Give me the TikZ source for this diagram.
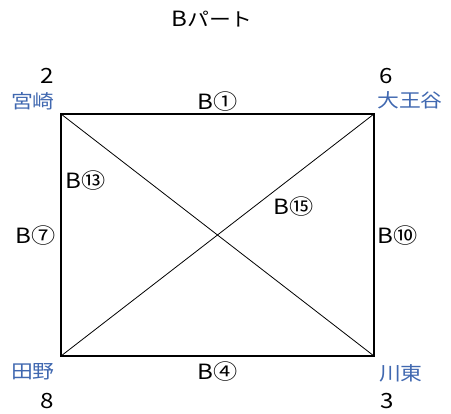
\documentclass[tikz,border=0pt]{standalone}
\usepackage{fontspec}
\setmainfont[FakeStretch=1.15]{Noto Sans CJK JP}
\definecolor{nameblue}{RGB}{64,104,176}
\begin{document}
\begin{tikzpicture}[x=1pt,y=-1pt,
  lbl/.style={inner sep=0pt,font=\fontsize{21}{21}\selectfont},
  place/.style={inner sep=0pt,font=\fontsize{19}{19}\selectfont,text=nameblue},
  num/.style={lbl},
  edge/.style={line width=2.4pt},
  diag/.style={line width=0.8pt}]
\useasboundingbox (0,0) rectangle (451,414);
\coordinate (TL) at (61,114);
\coordinate (TR) at (374,114);
\coordinate (BR) at (374,356);
\coordinate (BL) at (61,356);
\draw[diag] (TL) -- (BR);
\draw[diag] (TR) -- (BL);
\draw[edge,line join=miter] (TL) -- (TR) -- (BR) -- (BL) -- cycle;
\node[inner sep=0pt] (title) at (212,19) {\fontsize{21}{21}\selectfont B\fontsize{19}{19}\selectfont パート};
\node[num] (n2) at (47,76) {2};
\node[num] (n6) at (386,76) {6};
\node[num] (n8) at (47,401) {8};
\node[num] (n3) at (387,401) {3};
\node[place] (miyazaki) at (33,101) {宮崎};
\node[place] (daioudani) at (410,100) {大王谷};
\node[place] (tano) at (33,372) {田野};
\node[place] (kawahigashi) at (401,373) {川東};
\node[lbl] (b1) at (218,102) {B①};
\node[lbl] (b4) at (218,372) {B④};
\node[lbl] (b7) at (36,236) {B⑦};
\node[lbl] (b10) at (398,236) {B⑩};
\node[lbl] (b13) at (86,181) {B⑬};
\node[lbl] (b15) at (294,207) {B⑮};
\end{tikzpicture}
\end{document}
